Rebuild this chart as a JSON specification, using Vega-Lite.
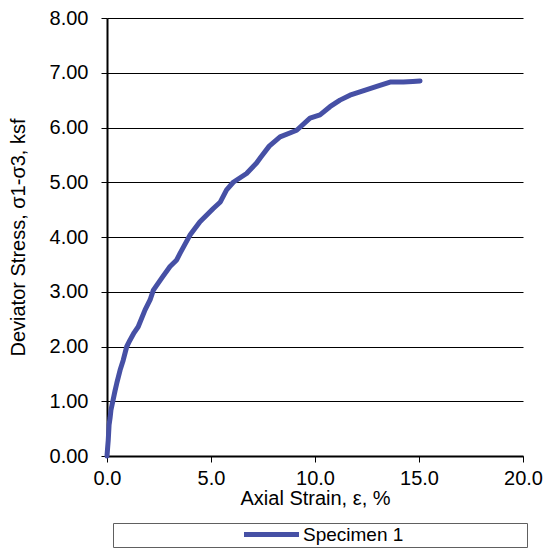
{
  "$schema": "https://vega.github.io/schema/vega-lite/v6.json",
  "autosize": {"type": "none"},
  "width": 416,
  "height": 438,
  "padding": {"left": 107, "top": 18, "right": 22, "bottom": 92},
  "background": "white",
  "config": {
    "font": "Liberation Sans",
    "view": {"stroke": null},
    "axis": {
      "labelFont": "Liberation Sans",
      "titleFont": "Liberation Sans",
      "labelFontSize": 20,
      "titleFontSize": 20,
      "titleFontWeight": "normal",
      "labelColor": "black",
      "titleColor": "black",
      "domainColor": "black",
      "domainWidth": 2,
      "tickColor": "black",
      "tickWidth": 1,
      "tickSize": 6,
      "labelFlush": false
    }
  },
  "datasets": {
    "curve": [
      {"strain": 0.0, "stress": 0.0, "series": "Specimen 1"},
      {"strain": 0.03, "stress": 0.15, "series": "Specimen 1"},
      {"strain": 0.06, "stress": 0.29, "series": "Specimen 1"},
      {"strain": 0.10, "stress": 0.57, "series": "Specimen 1"},
      {"strain": 0.15, "stress": 0.70, "series": "Specimen 1"},
      {"strain": 0.19, "stress": 0.84, "series": "Specimen 1"},
      {"strain": 0.29, "stress": 1.02, "series": "Specimen 1"},
      {"strain": 0.38, "stress": 1.18, "series": "Specimen 1"},
      {"strain": 0.47, "stress": 1.33, "series": "Specimen 1"},
      {"strain": 0.63, "stress": 1.57, "series": "Specimen 1"},
      {"strain": 0.78, "stress": 1.75, "series": "Specimen 1"},
      {"strain": 0.95, "stress": 2.00, "series": "Specimen 1"},
      {"strain": 1.11, "stress": 2.12, "series": "Specimen 1"},
      {"strain": 1.30, "stress": 2.25, "series": "Specimen 1"},
      {"strain": 1.50, "stress": 2.36, "series": "Specimen 1"},
      {"strain": 1.83, "stress": 2.67, "series": "Specimen 1"},
      {"strain": 2.07, "stress": 2.85, "series": "Specimen 1"},
      {"strain": 2.23, "stress": 3.03, "series": "Specimen 1"},
      {"strain": 2.63, "stress": 3.25, "series": "Specimen 1"},
      {"strain": 3.03, "stress": 3.46, "series": "Specimen 1"},
      {"strain": 3.35, "stress": 3.58, "series": "Specimen 1"},
      {"strain": 3.51, "stress": 3.70, "series": "Specimen 1"},
      {"strain": 3.91, "stress": 3.98, "series": "Specimen 1"},
      {"strain": 4.00, "stress": 4.04, "series": "Specimen 1"},
      {"strain": 4.47, "stress": 4.28, "series": "Specimen 1"},
      {"strain": 5.11, "stress": 4.52, "series": "Specimen 1"},
      {"strain": 5.45, "stress": 4.64, "series": "Specimen 1"},
      {"strain": 5.75, "stress": 4.86, "series": "Specimen 1"},
      {"strain": 6.07, "stress": 5.00, "series": "Specimen 1"},
      {"strain": 6.71, "stress": 5.16, "series": "Specimen 1"},
      {"strain": 7.19, "stress": 5.35, "series": "Specimen 1"},
      {"strain": 7.40, "stress": 5.46, "series": "Specimen 1"},
      {"strain": 7.80, "stress": 5.66, "series": "Specimen 1"},
      {"strain": 8.32, "stress": 5.83, "series": "Specimen 1"},
      {"strain": 9.12, "stress": 5.95, "series": "Specimen 1"},
      {"strain": 9.76, "stress": 6.17, "series": "Specimen 1"},
      {"strain": 10.24, "stress": 6.23, "series": "Specimen 1"},
      {"strain": 10.72, "stress": 6.38, "series": "Specimen 1"},
      {"strain": 11.20, "stress": 6.50, "series": "Specimen 1"},
      {"strain": 11.68, "stress": 6.59, "series": "Specimen 1"},
      {"strain": 12.16, "stress": 6.65, "series": "Specimen 1"},
      {"strain": 12.97, "stress": 6.75, "series": "Specimen 1"},
      {"strain": 13.61, "stress": 6.83, "series": "Specimen 1"},
      {"strain": 14.25, "stress": 6.83, "series": "Specimen 1"},
      {"strain": 14.70, "stress": 6.84, "series": "Specimen 1"},
      {"strain": 15.05, "stress": 6.85, "series": "Specimen 1"}
    ]
  },
  "layer": [
    {
      "mark": {"type": "rule", "color": "#888888", "strokeWidth": 2},
      "encoding": {"x": {"datum": 20, "type": "quantitative"}}
    },
    {
      "mark": {"type": "rule", "color": "#888888", "strokeWidth": 2},
      "encoding": {"y": {"datum": 8, "type": "quantitative"}}
    },
    {
      "data": {"name": "curve"},
      "mark": {"type": "line", "strokeWidth": 5, "strokeCap": "round", "strokeJoin": "round"},
      "encoding": {
        "x": {
          "field": "strain",
          "type": "quantitative",
          "scale": {"domain": [0, 20], "nice": false, "zero": false},
          "axis": {
            "title": "Axial Strain, ε, %",
            "values": [0, 5, 10, 15, 20],
            "format": ".1f",
            "grid": false,
            "labelPadding": 6,
            "titlePadding": 0
          }
        },
        "y": {
          "field": "stress",
          "type": "quantitative",
          "scale": {"domain": [0, 8], "nice": false, "zero": false},
          "axis": {
            "title": "Deviator Stress, σ1-σ3, ksf",
            "values": [0, 1, 2, 3, 4, 5, 6, 7, 8],
            "format": ".2f",
            "grid": true,
            "gridColor": "black",
            "gridWidth": 1,
            "gridOpacity": 1,
            "labelPadding": 13,
            "titlePadding": 21
          }
        },
        "color": {
          "field": "series",
          "type": "nominal",
          "scale": {"range": ["#4650A5"]},
          "legend": {
            "title": "\u00a0",
            "titleOrient": "right",
            "titlePadding": 122,
            "titleFontSize": 19,
            "orient": "none",
            "legendX": 6,
            "legendY": 505,
            "direction": "horizontal",
            "strokeColor": "#606060",
            "fillColor": "white",
            "padding": 2,
            "symbolType": "M-5,0H5",
            "symbolSize": 121,
            "symbolStrokeWidth": 5,
            "symbolOffset": 147,
            "labelFont": "Liberation Sans",
            "labelFontSize": 19,
            "labelColor": "black",
            "labelOffset": 22,
            "labelLimit": 400
          }
        }
      }
    }
  ]
}
